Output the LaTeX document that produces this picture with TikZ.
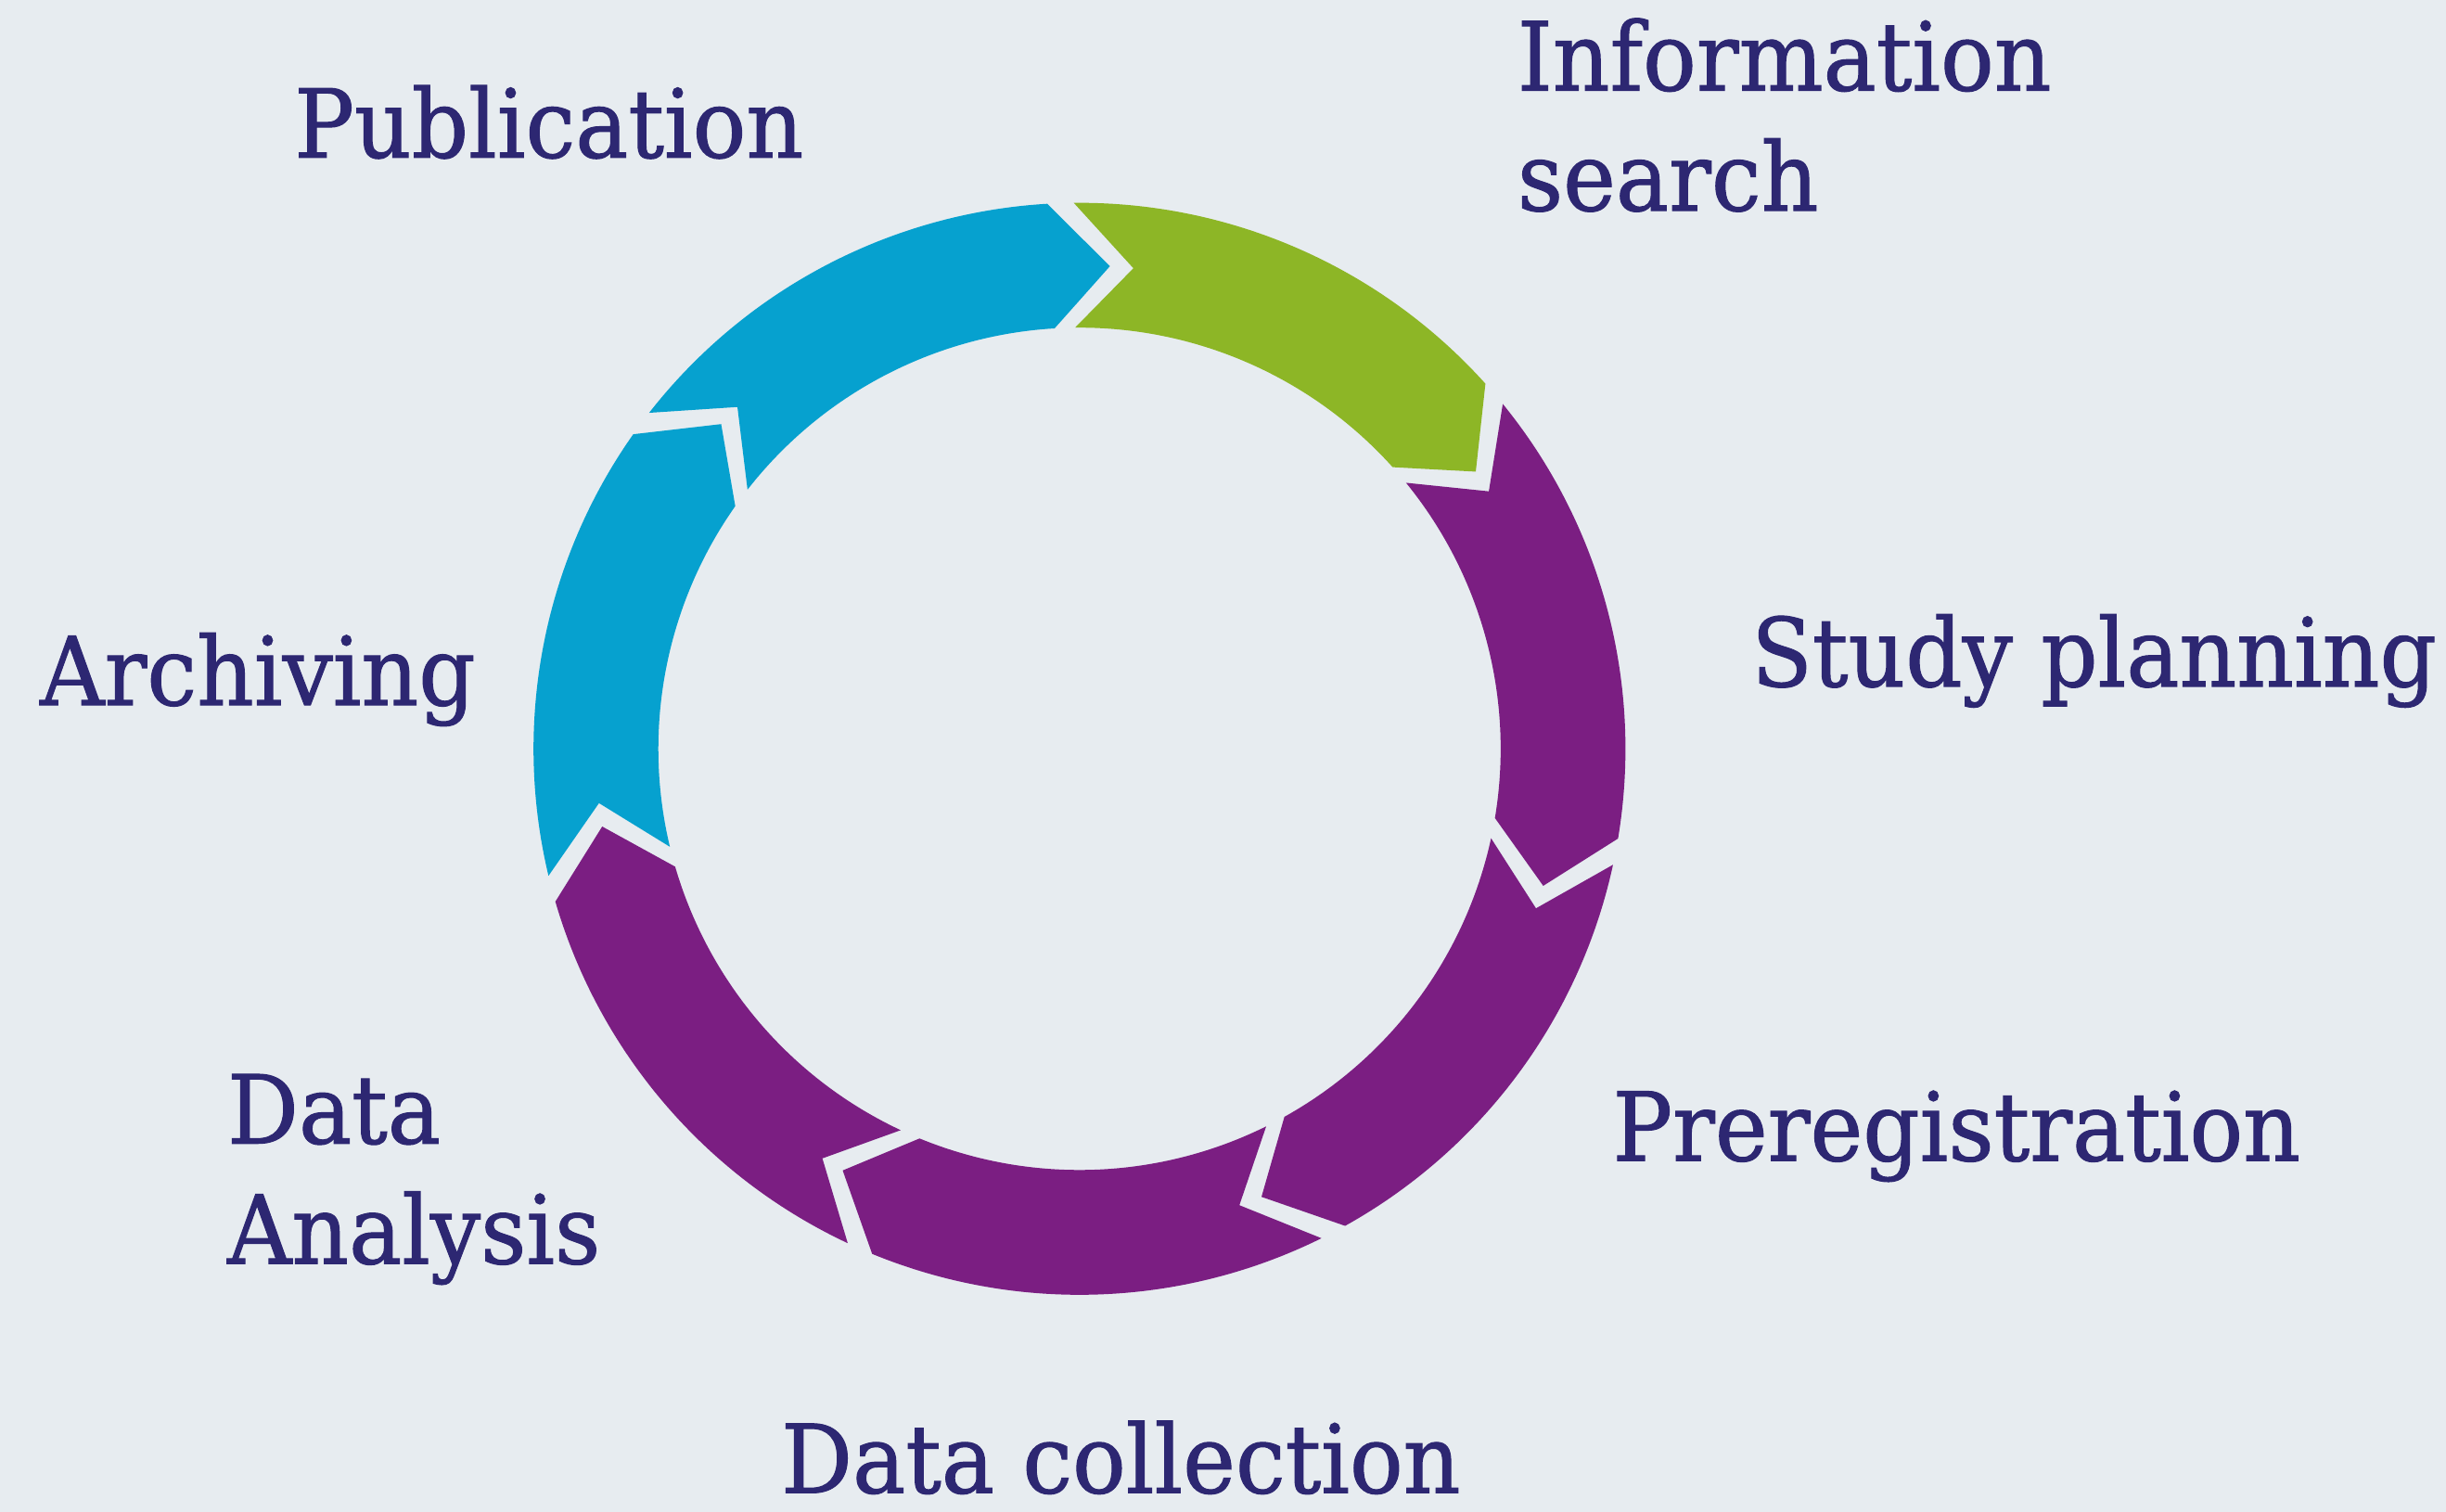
\documentclass[tikz,border=0pt]{standalone}
\usepackage{fontspec}
\setmainfont{DejaVu Serif}[FakeStretch=0.935,FakeBold=1]
\usetikzlibrary{calc}

\definecolor{paperbg}{RGB}{231,236,240}
\definecolor{stepgreen}{RGB}{141,182,38}
\definecolor{steppurple}{RGB}{123,30,130}
\definecolor{stepblue}{RGB}{6,161,207}
\definecolor{labelnavy}{RGB}{45,39,114}

\tikzset{every picture/.style={line width=0.75pt}}
\tikzset{steplabel/.style={anchor=base west, inner sep=0pt, text=labelnavy, font=\fontsize{30.5}{36}\selectfont}}

\begin{document}
\begin{tikzpicture}[x=0.5pt,y=0.5pt,yscale=-1,xscale=1]
		%set diagram as 1568 x 969
		\fill[paperbg] (0,0) rectangle (1568,969);
		\useasboundingbox (0,0) rectangle (1568,969);
		\coordinate (hub) at (692,480);
		
		%Ring of arrow segments, clockwise from the top
		\begin{scope}[shift={(hub)}]
		\foreach \k/\col in {1/stepgreen,2/steppurple,3/steppurple,4/steppurple,5/steppurple,6/stepblue,7/stepblue}{
			\pgfmathsetmacro\sA{-92+51.43*(\k-1)+1.4}
			\pgfmathsetmacro\eA{-92+51.43*\k-1.4}
			\fill[\col] (\sA:350) arc[start angle=\sA, end angle=\eA, radius=350] -- ({\eA+7}:310) -- (\eA:270) arc[start angle=\eA, end angle=\sA, radius=270] -- ({\sA+7}:310) -- cycle;
		}
		\end{scope}
		
		% Text Node
		\node[steplabel] (infoA) at (972,58) {Information};
		% Text Node
		\node[steplabel] (infoB) at (972,135) {search};
		% Text Node
		\node[steplabel] (study) at (1122,440) {Study planning};
		% Text Node
		\node[steplabel] (prereg) at (1033,744) {Preregistration};
		% Text Node
		\node[steplabel] (collect) at (500,957) {Data collection};
		% Text Node
		\node[steplabel] (analysisA) at (145,733) {Data};
		% Text Node
		\node[steplabel] (analysisB) at (145,810) {Analysis};
		% Text Node
		\node[steplabel] (archive) at (25,452) {Archiving};
		% Text Node
		\node[steplabel] (publish) at (188,101) {Publication};
		
\end{tikzpicture}
\end{document}
